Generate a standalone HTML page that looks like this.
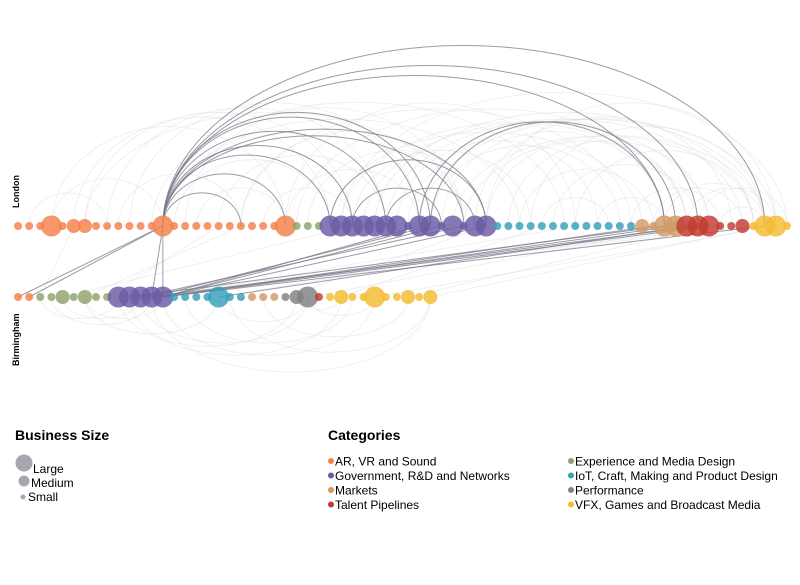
<!DOCTYPE html>
<html><head><meta charset="utf-8"><style>
body{margin:0;background:#fff;font-family:"Liberation Sans",sans-serif;}
svg text{font-family:"Liberation Sans",sans-serif;}
</style></head><body>
<svg id="chart" width="800" height="580" viewBox="0 0 800 580" xmlns="http://www.w3.org/2000/svg">
<g id="links"></g>
<g id="nodes"></g>
<text transform="translate(19,208) rotate(-90)" font-size="9" font-weight="bold">London</text>
<text transform="translate(19,366) rotate(-90)" font-size="9" font-weight="bold">Birmingham</text>
<g>
<text x="15" y="440" font-size="14" font-weight="bold">Business Size</text>
<circle cx="24" cy="463" r="8.5" fill="#a6a6b0"/>
<text x="33" y="473" font-size="12">Large</text>
<circle cx="24" cy="481" r="5.5" fill="#a6a6b0"/>
<text x="31" y="487" font-size="12">Medium</text>
<circle cx="23" cy="497" r="2.5" fill="#a6a6b0"/>
<text x="28" y="501" font-size="12">Small</text>
</g>
<g id="catlegend">
<text x="328" y="440" font-size="14" font-weight="bold">Categories</text>
</g>
</svg>
<script>
const catNames=["AR, VR and Sound","Government, R&D and Networks","Markets","Talent Pipelines","Experience and Media Design","IoT, Craft, Making and Product Design","Performance","VFX, Games and Broadcast Media"];
const catColors=["#f4804a","#6a5aa3","#d39a63","#c23a30","#8ea46a","#36a0b8","#808080","#f5bb30"];
const londonCat=[0,0,0,0,0,0,0,0,0,0,0,0,0,0,0,0,0,0,0,0,0,0,0,0,0,4,4,4,1,1,1,1,1,1,1,1,1,1,1,1,1,1,1,5,5,5,5,5,5,5,5,5,5,5,5,5,2,2,2,2,3,3,3,3,3,3,7,7,7,7];
const londonSize=[0,0,0,2,0,1,1,0,0,0,0,0,0,2,0,0,0,0,0,0,0,0,0,0,2,0,0,0,2,2,2,2,2,2,2,0,2,2,0,2,0,2,2,0,0,0,0,0,0,0,0,0,0,0,0,0,1,0,2,2,2,2,2,0,0,1,0,2,2,0];
const birmCat=[0,0,4,4,4,4,4,4,4,1,1,1,1,1,5,5,5,5,5,5,5,2,2,2,6,6,6,3,7,7,7,7,7,7,7,7,7,7];
const birmSize=[0,0,0,0,1,0,1,0,0,2,2,2,2,2,0,0,0,0,2,0,0,0,0,0,0,1,2,0,0,1,0,0,2,0,0,1,0,1];
const strongLinks=[[0,13,0,67],[0,13,0,61],[0,13,0,58],[0,13,0,42],[0,13,0,40],[0,13,0,37],[0,13,0,36],[0,13,0,33],[0,13,0,30],[0,13,0,28],[0,13,0,24],[0,13,0,20],[0,30,0,38],[0,33,0,41],[0,36,0,58],[0,37,0,59],[0,28,0,42],[1,0,0,13],[1,1,0,13],[1,13,0,13],[1,12,0,13],[1,13,0,36],[1,13,0,38],[1,12,0,37],[1,11,0,40],[1,13,0,42],[1,13,0,59],[1,12,0,61],[1,13,0,62],[1,13,0,67],[1,10,0,58],[1,18,0,60],[1,13,0,57]];
const faintLinks=[[0,3,0,24],[0,5,0,28],[0,3,0,13],[0,6,0,30],[0,8,0,33],[0,10,0,36],[0,13,0,45],[0,15,0,40],[0,18,0,33],[0,20,0,40],[0,24,0,36],[0,24,0,50],[0,28,0,56],[0,29,0,60],[0,31,0,62],[0,33,0,65],[0,35,0,67],[0,36,0,68],[0,38,0,58],[0,39,0,66],[0,40,0,67],[0,42,0,60],[0,42,0,68],[0,44,0,62],[0,46,0,67],[0,48,0,61],[0,50,0,66],[0,52,0,58],[0,55,0,63],[0,57,0,65],[0,58,0,67],[0,60,0,68],[0,61,0,69],[0,63,0,67],[0,25,0,60],[0,20,0,55],[0,12,0,49],[0,30,0,46],[0,34,0,52],[0,37,0,54],[0,41,0,64],[0,45,0,57],[0,26,0,42],[0,22,0,30],[0,14,0,28],[0,9,0,20],[0,1,0,8],[0,16,0,24],[0,47,0,53],[0,29,0,69],[0,32,0,66],[0,6,0,40],[1,3,1,12],[1,6,1,18],[1,9,1,25],[1,11,1,26],[1,13,1,32],[1,12,1,37],[1,4,1,11],[1,18,1,26],[1,22,1,35],[1,26,1,32],[1,10,1,29],[1,2,1,9],[1,15,1,30],[1,19,1,37],[1,6,1,13],[1,25,1,29],[1,9,0,66],[1,11,0,64],[1,13,0,50],[1,18,0,56],[1,26,0,60],[1,32,0,68],[1,29,0,47],[1,4,0,30],[1,6,0,20],[1,2,0,5],[1,37,0,67],[1,35,0,62],[1,24,0,42],[1,8,0,18]];

const y0=226,y1=297,x0=18,step=(787-18)/69;
const rad=[4,7,10.5];
const NS="http://www.w3.org/2000/svg";
function xPos(i){return x0+i*step;}
function yPos(row){return row===0?y0:y1;}
const linksG=document.getElementById('links');
function drawLink(l,strong){
  const xa=xPos(l[1]),ya=yPos(l[0]),xb=xPos(l[3]),yb=yPos(l[2]);
  const p=document.createElementNS(NS,'path');
  let d;
  if(l[0]===l[2]){
    const rx=Math.abs(xb-xa)/2;
    let ry=rx*(rx>150?0.6:0.85);
    if(l[0]===1) ry=Math.min(rx*0.55,75);
    const sweep=l[0]===0?1:0;
    const a=Math.min(xa,xb),b=Math.max(xa,xb);
    d=`M${a},${ya} A${rx},${ry} 0 0 ${sweep} ${b},${yb}`;
  } else {
    d=`M${xa},${ya} L${xb},${yb}`;
  }
  p.setAttribute('d',d);
  p.setAttribute('fill','none');
  p.setAttribute('stroke',strong?'#7a7a88':'#d6d6dc');
  p.setAttribute('stroke-opacity',strong?'0.75':'0.45');
  p.setAttribute('stroke-width',strong?'1':'0.8');
  
  
  linksG.appendChild(p);
}
faintLinks.forEach(l=>drawLink(l,false));
strongLinks.forEach(l=>drawLink(l,true));
const nodesG=document.getElementById('nodes');
function drawRow(cats,sizes,row,label){
  cats.forEach((c,i)=>{
    const ci=document.createElementNS(NS,'circle');
    ci.setAttribute('cx',xPos(i));
    ci.setAttribute('cy',yPos(row));
    ci.setAttribute('r',rad[sizes[i]]);
    ci.setAttribute('fill',catColors[c]);
    ci.setAttribute('fill-opacity','0.82');
    
    
    nodesG.appendChild(ci);
  });
}
drawRow(londonCat,londonSize,0,'london');
drawRow(birmCat,birmSize,1,'birmingham');
const lg=document.getElementById('catlegend');
catNames.forEach((n,i)=>{
  const col=i<4?0:1,row=i%4;
  const x=col?568:328,y=461+row*14.5;
  const c=document.createElementNS(NS,'circle');
  c.setAttribute('cx',x+3);c.setAttribute('cy',y);c.setAttribute('r',3);
  c.setAttribute('fill',catColors[i]);
  
  
  lg.appendChild(c);
  const t=document.createElementNS(NS,'text');
  t.setAttribute('x',x+7);t.setAttribute('y',y+4.5);t.setAttribute('font-size','12');
  t.textContent=n;
  
  
  lg.appendChild(t);
});
</script>
</body></html>
